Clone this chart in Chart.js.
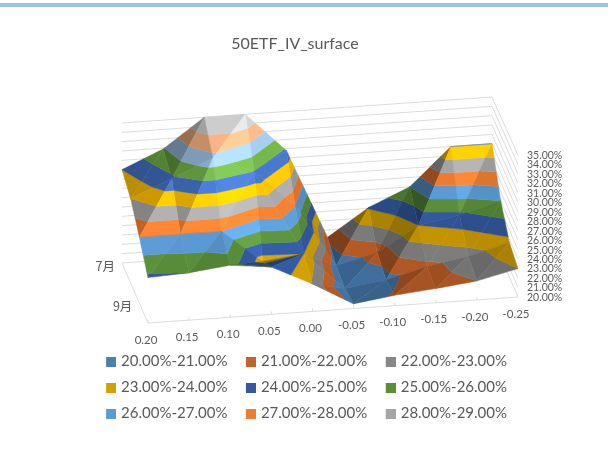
<!DOCTYPE html>
<html><head><meta charset="utf-8">
<script src="https://cdn.jsdelivr.net/npm/chart.js@4"></script>
<style>
html,body{margin:0;padding:0;background:#fff}
#strip{position:absolute;left:0;top:3px;width:608px;height:4px;background:#9cc2e5}
canvas{position:absolute;left:0;top:0}
</style></head><body>
<canvas id="c" width="608" height="462"></canvas>
<div id="strip"></div>
<script>
// ---- data ----
const strikes = ['0.20','0.15','0.10','0.05','0.00','-0.05','-0.10','-0.15','-0.20','-0.25'];
const expiries = ['7月','8月','9月','12月'];
const iv7  = [30.0,31.9,35.0,35.0,30.8,21.2,24.1,26.0,30.0,30.0];
const iv8  = [29.0,30.8,32.7,31.0,27.0,20.3,21.4,24.0,24.8,26.0];
const iv9  = [27.0,27.0,27.0,23.5,24.0,20.0,20.6,21.7,22.5,23.7];
const iv12 = [24.8,25.0,25.5,25.0,22.9,20.5,21.1,21.5,22.0,23.0];
const zTicks = [20,21,22,23,24,25,26,27,28,29,30,31,32,33,34,35];
const bandColors = ['#4a7fb5','#c5632a','#878787','#d2a000','#335aa1','#5a8f3a','#5b9bd5','#ed7d31','#a5a5a5','#ffc000','#4472c4','#70ad47','#9dc3e6','#f4b183','#c9c9c9'];
const legendCount = 9;
const shownExpiries = ['7月','9月'];

// ---- view of the 3D box ----
const FONT = 'Lato,"Noto Sans",sans-serif';
const TXT = '#595959', GRID = '#dcdcdc';
const grid = [iv7, iv8, iv9, iv12];
const nC = strikes.length, nR = expiries.length;
function project(c, r, z) {
  const t = c/(nC-1), s = r/(nR-1);
  const k = (140 + 2*s)/15;
  return { x: 122 + 370*t + 26*s, y: 263 - 26*t + 60*s - (z-20)*k };
}
const bandName = i => zTicks[i].toFixed(2)+'%-'+zTicks[i+1].toFixed(2)+'%';

function shade(hex, tri) {
  const P = tri.map(v => [v.c/(nC-1)*1.6, v.r/(nR-1), (v.z-20)/15]);
  const a = [P[1][0]-P[0][0],P[1][1]-P[0][1],P[1][2]-P[0][2]];
  const b = [P[2][0]-P[0][0],P[2][1]-P[0][1],P[2][2]-P[0][2]];
  let n = [a[1]*b[2]-a[2]*b[1], a[2]*b[0]-a[0]*b[2], a[0]*b[1]-a[1]*b[0]];
  const len = Math.hypot(...n)||1; n = n.map(v=>v/len); if (n[2]<0) n = n.map(v=>-v);
  const d = Math.max(0, n[0]*.4 + n[1]*.7 + n[2]*.6);
  const f = d<.82 ? .52+.58*d : 1+(d-.82)*1.0;
  const rgb = [1,3,5].map(i=>parseInt(hex.substr(i,2),16));
  return 'rgb('+rgb.map(v=>Math.round(Math.min(255,v*f))).join(',')+')';
}
function clipZ(poly, limit, keepAbove) {
  const out = [];
  for (let i=0;i<poly.length;i++) {
    const A = poly[i], B = poly[(i+1)%poly.length];
    const ina = keepAbove ? A.z>=limit : A.z<=limit;
    const inb = keepAbove ? B.z>=limit : B.z<=limit;
    if (ina) out.push(A);
    if (ina!==inb) {
      const u = (limit-A.z)/(B.z-A.z);
      out.push({c:A.c+(B.c-A.c)*u, r:A.r+(B.r-A.r)*u, z:limit});
    }
  }
  return out;
}
const datasets = [];
function lineSet(a, b, color) {
  datasets.push({data:[a,b], showLine:true, fill:false, borderColor:color, borderWidth:1, pointRadius:0, tension:0});
}
zTicks.forEach(z => {
  lineSet(project(0,0,z), project(nC-1,0,z), GRID);
  lineSet(project(nC-1,0,z), project(nC-1,nR-1,z), GRID);
});
lineSet(project(0,0,20), project(0,nR-1,20), GRID);
lineSet(project(0,nR-1,20), project(nC-1,nR-1,20), GRID);
strikes.forEach((_,c) => { const p = project(c,nR-1,20); lineSet(p,{x:p.x,y:p.y-3},GRID); });

const V = (c,r) => ({c, r, z: grid[r][c]});
for (let r=0;r<nR-1;r++) for (let c=nC-2;c>=0;c--) {
  const mainDiag = (c===3 && r===1);
  const tris = mainDiag
    ? [[V(c,r),V(c+1,r),V(c+1,r+1)],[V(c,r),V(c+1,r+1),V(c,r+1)]]
    : [[V(c,r),V(c+1,r),V(c,r+1)],[V(c+1,r),V(c+1,r+1),V(c,r+1)]];
  tris.forEach(tri => {
    bandColors.forEach((col,i) => {
      let poly = clipZ(tri, zTicks[i], true);
      if (poly.length) poly = clipZ(poly, zTicks[i+1], false);
      if (poly.length<3) return;
      const pts = poly.map(v=>project(v.c,v.r,v.z)); pts.push(pts[0]);
      const fillCol = shade(col, tri);
      datasets.push({label:bandName(i), data:pts, showLine:true, fill:'shape', backgroundColor:fillCol,
        borderColor:fillCol, borderWidth:.5, pointRadius:0, tension:.0001});
    });
  });
}
datasets.reverse(); // first dataset is painted last

function swatch(color){
  const cv = document.createElement('canvas'); cv.width=20; cv.height=10;
  const g = cv.getContext('2d'); g.fillStyle=color; g.fillRect(10,0,10,10); return cv;
}
const axisText = {
  id:'axisText',
  afterDraw(ch){
    const g = ch.ctx, X = ch.scales.x, Y = ch.scales.y;
    const at = (p,dx,dy)=>[X.getPixelForValue(p.x)+dx, Y.getPixelForValue(p.y)+dy];
    g.save(); g.fillStyle = TXT; g.textBaseline='middle';
    g.font = '10.5px '+FONT; g.textAlign='left';
    zTicks.forEach(z => { const [x,y]=at(project(nC-1,nR-1,z),9,0.5); g.fillText(z.toFixed(2)+'%',x,y); });
    g.font = '11.5px '+FONT; g.textAlign='center';
    strikes.forEach((s,c) => { const [x,y]=at(project(c,nR-1,20),-2,17); g.fillText(s,x,y); });
    g.font = '12.5px "Noto Sans CJK SC",'+FONT; g.textAlign='right';
    shownExpiries.forEach(m => { const [x,y]=at(project(0,expiries.indexOf(m),20),-7,3); g.fillText(m,x,y); });
    g.restore();
  }
};
const chart = new Chart(document.getElementById('c'), {
  type:'scatter',
  data:{datasets},
  plugins:[axisText],
  options:{
    responsive:false, animation:false, events:[],
    layout:{padding:{left:72,right:90,top:0,bottom:31}},
    scales:{ x:{type:'linear',display:false,min:0,max:608},
             y:{type:'linear',display:false,reverse:true,min:0,max:462} },
    plugins:{
      tooltip:{enabled:false},
      title:{display:true,text:'50ETF_IV_surface',color:TXT,font:{family:FONT,size:16,weight:'normal'},padding:{top:34,bottom:8}},
      legend:{display:true,position:'bottom',align:'end',
        labels:{usePointStyle:true,pointStyleWidth:15,boxHeight:10,padding:11,color:TXT,font:{family:FONT,size:15},
          generateLabels:()=>bandColors.slice(0,legendCount).map((col,i)=>({text:bandName(i),fillStyle:col,strokeStyle:col,lineWidth:0,pointStyle:swatch(col),fontColor:TXT,hidden:false,datasetIndex:i}))}}
    }
  }
});
// one scale unit = one pixel of the projected view
const A = chart.chartArea;
chart.options.scales.x.min = A.left; chart.options.scales.x.max = A.right;
chart.options.scales.y.min = A.top;  chart.options.scales.y.max = A.bottom;
chart.update();
</script></body></html>
